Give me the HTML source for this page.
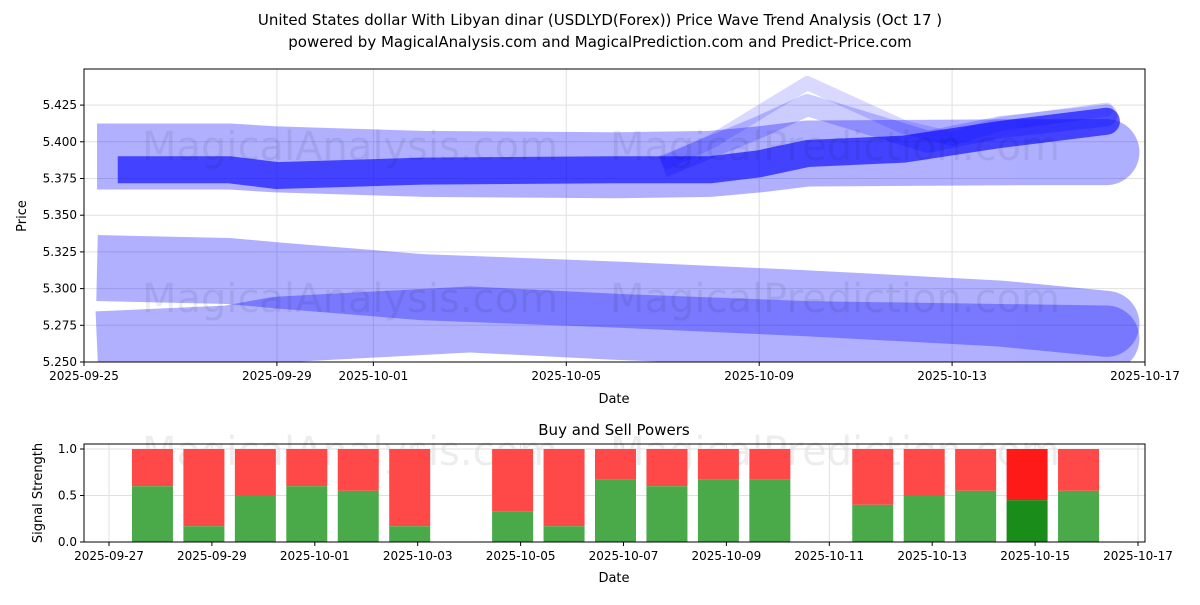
<!DOCTYPE html>
<html><head><meta charset="utf-8"><style>
body{margin:0;background:#fff;font-family:"Liberation Sans","DejaVu Sans",sans-serif}
svg text{font-family:"DejaVu Sans","Liberation Sans",sans-serif}
</style></head><body>
<svg id="c" width="1200" height="600" xmlns="http://www.w3.org/2000/svg">
<text x="600" y="25" text-anchor="middle" font-size="15">United States dollar With Libyan dinar (USDLYD(Forex)) Price Wave Trend Analysis (Oct 17 )</text>
<text x="600" y="47" text-anchor="middle" font-size="15">powered by MagicalAnalysis.com and MagicalPrediction.com and Predict-Price.com</text>
<g id="top"></g>
<g id="bot"></g>
</svg>
<script>
const bandDays = [
 [0.27,3,4,7,11,13,14,15,20,21.2],
 [0.7,3,4,7,11,13,14,15,17,18,19,21.2],
 [12,13,14,15,16,17,18,19,21.2],
 [12,14,15,16.5,17.5,19,21.2],
 [0.27,3,4,7,11,15,19,21.2],
 [0.27,3,4,8,11,15,21.2]
];
const bandPrices = [
 [5.390,5.390,5.388,5.385,5.384,5.385,5.388,5.392,5.393,5.393],
 [5.381,5.381,5.377,5.380,5.381,5.381,5.385,5.392,5.395,5.400,5.405,5.414],
 [5.385,5.400,5.420,5.440,5.425,5.410,5.402,5.412,5.422],
 [5.383,5.410,5.425,5.410,5.400,5.410,5.418],
 [5.314,5.312,5.309,5.301,5.296,5.290,5.283,5.276],
 [5.262,5.266,5.272,5.279,5.274,5.269,5.266]
];
const bandWidths=[66,27,14,22,66,66];
const bandAlpha=[0.31,0.62,0.15,0.2,0.31,0.31];
const priceTicks=[5.250,5.275,5.300,5.325,5.350,5.375,5.400,5.425];
const dateTicksTop=["2025-09-25","2025-09-29","2025-10-01","2025-10-05","2025-10-09","2025-10-13","2025-10-17"];
const dateTickDaysTop=[0,4,6,10,14,18,22];
const barDays=[1,2,3,4,5,6,8,9,10,11,12,13,15,16,17,18,19];
const buyVals=[0.6,0.17,0.5,0.6,0.55,0.17,0.33,0.17,0.67,0.6,0.67,0.67,0.4,0.5,0.55,0.45,0.55];
const dateTicksBot=["2025-09-27","2025-09-29","2025-10-01","2025-10-03","2025-10-05","2025-10-07","2025-10-09","2025-10-11","2025-10-13","2025-10-15","2025-10-17"];
const dateTickDaysBot=[0,2,4,6,8,10,12,14,16,18,20];
const sigTicks=[0.0,0.5,1.0];

const NS="http://www.w3.org/2000/svg";
function mk(p,t,a){const e=document.createElementNS(NS,t);for(const k in a)e.setAttribute(k,a[k]);p.appendChild(e);return e;}
const topG=document.getElementById('top'),botG=document.getElementById('bot');
const L=84,R=1145,T=69,B=362;
const xT=d=>L+d*(R-L)/22;
const yT=v=>B-(v-5.25)/0.025*36.7;
for(let i=0;i<dateTickDaysTop.length;i++){
 const x=xT(dateTickDaysTop[i]);
 const g=mk(topG,'line',{x1:x,x2:x,y1:T,y2:B,stroke:'#e0e0e0'});
 
 
 mk(topG,'line',{x1:x,x2:x,y1:B,y2:B+4,stroke:'#000'});
 const t=mk(topG,'text',{x:x,y:B+18,'text-anchor':'middle','font-size':12});t.textContent=dateTicksTop[i];
 
 
}
for(const v of priceTicks){
 const y=yT(v);
 mk(topG,'line',{x1:L,x2:R,y1:y,y2:y,stroke:'#e0e0e0'});
 mk(topG,'line',{x1:L-4,x2:L,y1:y,y2:y,stroke:'#000'});
 const t=mk(topG,'text',{x:L-7,y:y+4,'text-anchor':'end','font-size':12});t.textContent=v.toFixed(3);
 
 
}
const cp=mk(topG,'clipPath',{id:'cp'});mk(cp,'rect',{x:L,y:T,width:R-L,height:B-T});
const bg=mk(topG,'g',{'clip-path':'url(#cp)'});
for(let i=0;i<bandDays.length;i++){
 const pts=bandDays[i].map((d,j)=>xT(d)+','+yT(bandPrices[i][j])).join(' ');
 const g=mk(bg,'g',{opacity:bandAlpha[i]});
 
 
 mk(g,'polyline',{points:pts,fill:'none',stroke:'#0000ff','stroke-width':bandWidths[i],'stroke-linejoin':'round'});
 const n=bandDays[i].length-1;
 mk(g,'circle',{cx:xT(bandDays[i][n]),cy:yT(bandPrices[i][n]),r:bandWidths[i]/2,fill:'#0000ff'});
}
const wm=[[350,160,'MagicalAnalysis.com'],[835,160,'MagicalPrediction.com'],[350,312,'MagicalAnalysis.com'],[835,312,'MagicalPrediction.com'],[350,465,'MagicalAnalysis.com'],[835,465,'MagicalPrediction.com']];
for(const w of wm){const t=mk(topG,'text',{x:w[0],y:w[1],'text-anchor':'middle','font-size':40,fill:'#000','fill-opacity':0.07});t.textContent=w[2];
 
 }
mk(topG,'rect',{x:L,y:T,width:R-L,height:B-T,fill:'none',stroke:'#000'});
const xl=mk(topG,'text',{x:614,y:403,'text-anchor':'middle','font-size':13});xl.textContent='Date';


const yl=mk(topG,'text',{x:26,y:216,'text-anchor':'middle','font-size':13,transform:'rotate(-90 26 216)'});yl.textContent='Price';



const T2=444,B2=542;
const xB=d=>109+d*51.45;
const yB=v=>B2-v*93;
const tt=mk(botG,'text',{x:614,y:435,'text-anchor':'middle','font-size':15});tt.textContent='Buy and Sell Powers';


for(let i=0;i<dateTickDaysBot.length;i++){
 const x=xB(dateTickDaysBot[i]);
 mk(botG,'line',{x1:x,x2:x,y1:T2,y2:B2,stroke:'#e0e0e0'});
 mk(botG,'line',{x1:x,x2:x,y1:B2,y2:B2+4,stroke:'#000'});
 const t=mk(botG,'text',{x:x,y:B2+18,'text-anchor':'middle','font-size':12});t.textContent=dateTicksBot[i];
 
 
}
for(const v of sigTicks){
 const y=yB(v);
 mk(botG,'line',{x1:L,x2:R,y1:y,y2:y,stroke:'#e0e0e0'});
 mk(botG,'line',{x1:L-4,x2:L,y1:y,y2:y,stroke:'#000'});
 const t=mk(botG,'text',{x:L-7,y:y+4,'text-anchor':'end','font-size':12});t.textContent=v.toFixed(1);
 
 
}
for(let i=0;i<barDays.length;i++){
 const x=xB(barDays[i])-8-20.5;const last=barDays[i]===18;
 const r=mk(botG,'rect',{x:x,y:yB(1),width:41,height:yB(buyVals[i])-yB(1),fill:last?'#ff1a1a':'#ff4848'});
 
 
 const g=mk(botG,'rect',{x:x,y:yB(buyVals[i]),width:41,height:B2-yB(buyVals[i]),fill:last?'#1a8c1a':'#4aaa4a'});
 
 
}
mk(botG,'rect',{x:L,y:T2,width:R-L,height:B2-T2,fill:'none',stroke:'#000'});
const xl2=mk(botG,'text',{x:614,y:582,'text-anchor':'middle','font-size':13});xl2.textContent='Date';


const yl2=mk(botG,'text',{x:42,y:493,'text-anchor':'middle','font-size':13,transform:'rotate(-90 42 493)'});yl2.textContent='Signal Strength';


</script>
</body></html>
